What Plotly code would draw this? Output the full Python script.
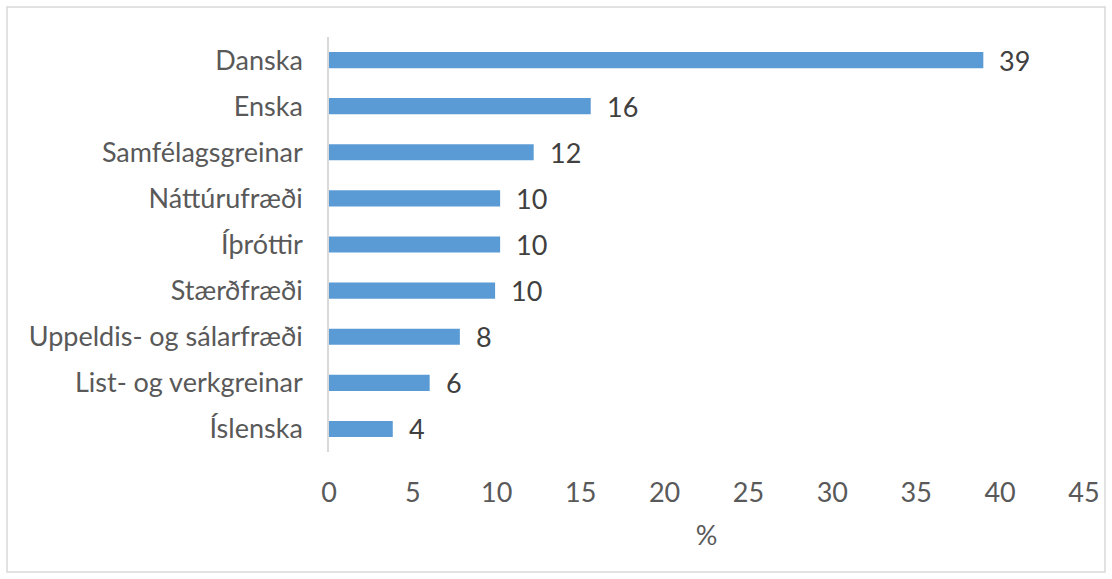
import plotly.graph_objects as go

categories = ["Danska", "Enska", "Samfélagsgreinar", "Náttúrufræði", "Íþróttir",
              "Stærðfræði", "Uppeldis- og sálarfræði", "List- og verkgreinar", "Íslenska"]
values = [39.0, 15.6, 12.2, 10.2, 10.2, 9.9, 7.8, 6.0, 3.8]
labels = ["39", "16", "12", "10", "10", "10", "8", "6", "4"]
x_ticks = [0, 5, 10, 15, 20, 25, 30, 35, 40, 45]

W, H = 1112, 579
ML, MR, MT, MB = 329, 28, 37, 127
FONT = "Lato, 'Open Sans', sans-serif"
FS = 27

fig = go.Figure()
fig.add_trace(go.Bar(
    y=categories, x=values, orientation="h",
    marker=dict(color="#5B9BD5", line=dict(width=0)),
    hoverinfo="skip",
))

for c, v, t in zip(categories, values, labels):
    fig.add_annotation(x=v, y=c, text=t, showarrow=False, xanchor="left",
                       xshift=14, font=dict(family=FONT, size=FS, color="#404040"))

pw = W - ML - MR
ph = H - MT - MB
fig.add_shape(type="rect", xref="paper", yref="paper",
              x0=(7 - ML) / pw, x1=(W - 7 - ML) / pw,
              y0=-(H - 7 - (H - MB)) / ph, y1=(H - MB - 7) / ph,
              line=dict(color="#D9D9D9", width=1.5), fillcolor="rgba(0,0,0,0)", layer="below")

fig.update_layout(
    width=W, height=H,
    margin=dict(l=ML, r=MR, t=MT, b=MB, pad=0),
    paper_bgcolor="white", plot_bgcolor="white",
    bargap=0.65, showlegend=False,
    font=dict(family=FONT, size=FS, color="#595959"),
    xaxis=dict(range=[0, 45], tickvals=x_ticks, showgrid=False, zeroline=False,
               showline=False, ticks="", ticklabelstandoff=22,
               tickfont=dict(size=FS, color="#595959"),
               title=dict(text="%", standoff=19, font=dict(size=FS, color="#595959"))),
    yaxis=dict(categoryorder="array", categoryarray=categories[::-1],
               showgrid=False, zeroline=False, showline=True, linecolor="#D9D9D9",
               linewidth=1.5, ticks="", ticklabelstandoff=19,
               tickfont=dict(size=FS, color="#595959")),
)

fig.write_html("out.html", config={"displayModeBar": False})
with open("out.html", "r", encoding="utf-8") as f:
    html = f.read()
html = html.replace("<body>", '<body style="margin:0;padding:0;">', 1)
with open("out.html", "w", encoding="utf-8") as f:
    f.write(html)
